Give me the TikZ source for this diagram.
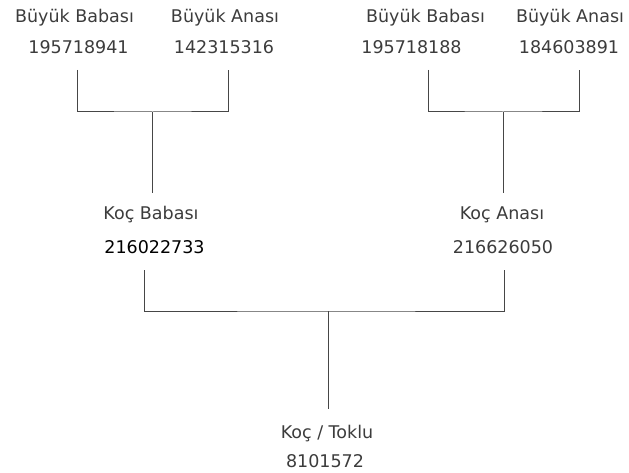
\documentclass[tikz,border=0pt]{standalone}
\usepackage{fontspec}
\setmainfont{DejaVu Sans}
\usetikzlibrary{positioning}
\definecolor{textgray}{RGB}{60,60,60}
\definecolor{linegray}{RGB}{70,70,70}

\begin{document}
\begin{tikzpicture}[x=1pt, y=-1pt,
  label/.style={anchor=base, inner sep=0pt, text=textgray, font=\fontsize{17.5}{21}\selectfont},
  link/.style={draw=linegray, line width=1pt}
]
  \useasboundingbox (0,0) rectangle (629,473);

  % grandparents, father side
  \node[label] (gb1) at (74.5,22.7) {Büyük Babası};
  \node[label] (gb1n) at (78.5,53.3) {195718941};
  \node[label] (ga1) at (225,22.7) {Büyük Anası};
  \node[label] (ga1n) at (224,53.3) {142315316};

  % grandparents, mother side
  \node[label] (gb2) at (425.5,22.7) {Büyük Babası};
  \node[label] (gb2n) at (411.5,53.3) {195718188};
  \node[label] (ga2) at (570,22.7) {Büyük Anası};
  \node[label] (ga2n) at (569,53.3) {184603891};

  % parents
  \node[label] (kb) at (151,220) {Koç Babası};
  \node[label, text=black] (kbn) at (154.5,253) {216022733};
  \node[label] (ka) at (502,220) {Koç Anası};
  \node[label] (kan) at (503,253) {216626050};

  % lamb
  \node[label] (kt) at (327,438) {Koç / Toklu};
  \node[label] (ktn) at (325,467) {8101572};

  % bracket points
  \coordinate (gb1c) at (77.7,70);
  \coordinate (ga1c) at (228.3,70);
  \coordinate (j1) at (152.7,112);
  \coordinate (kbtop) at (152.7,193);

  \coordinate (gb2c) at (428.3,70);
  \coordinate (ga2c) at (579,70);
  \coordinate (j2) at (503,112);
  \coordinate (katop) at (503,193);

  \coordinate (kbc) at (144,270);
  \coordinate (kac) at (504,270);
  \coordinate (j3) at (328,311);
  \coordinate (kttop) at (328,409);

  \draw[link] (gb1c) |- (j1) -| (ga1c);
  \draw[link] (j1) -- (kbtop);
  \draw[link] (gb2c) |- (j2) -| (ga2c);
  \draw[link] (j2) -- (katop);
  \draw[link] (kbc) |- (j3) -| (kac);
  \draw[link] (j3) -- (kttop);
\end{tikzpicture}
\end{document}
